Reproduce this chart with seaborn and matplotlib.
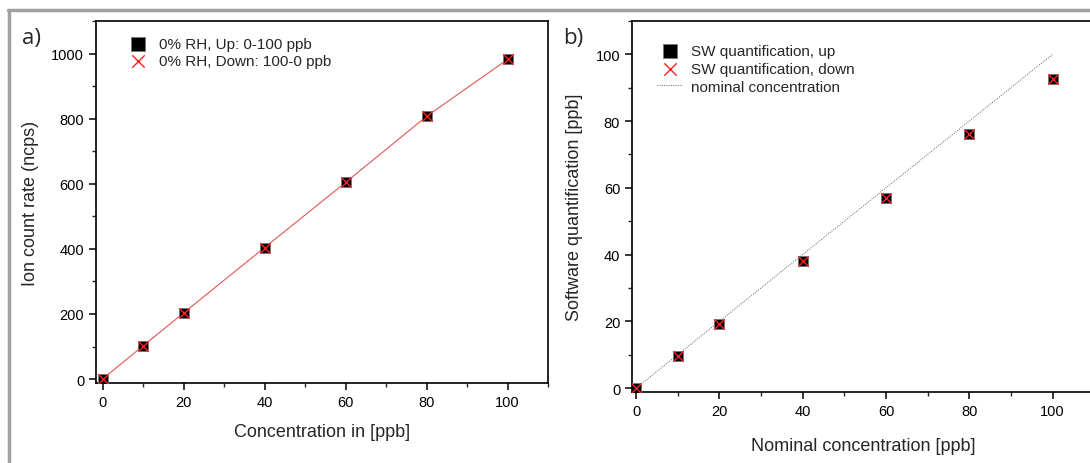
import numpy as np
import pandas as pd
import matplotlib
matplotlib.use("Agg")
import matplotlib.pyplot as plt
from matplotlib.lines import Line2D
from matplotlib.ticker import MultipleLocator
import seaborn as sns

# === data ===
conc = [0, 10, 20, 40, 60, 80, 100]
counts_up = [0, 102, 203, 404, 604, 807, 982]
counts_down = [0, 102, 203, 404, 604, 807, 982]
sw_up = [0, 9.6, 19.2, 38.0, 57.0, 76.2, 92.5]
sw_down = [0, 9.6, 19.2, 38.0, 57.0, 76.2, 92.5]
nominal_x = [0, 100]
nominal_y = [0, 100]

df_a = pd.DataFrame({"conc": conc, "up": counts_up, "down": counts_down})
df_b = pd.DataFrame({"conc": conc, "up": sw_up, "down": sw_down})

sns.set_style("ticks")
plt.rcParams['font.family'] = ['Liberation Sans', 'DejaVu Sans']
plt.rcParams['axes.linewidth'] = 1.2

fig = plt.figure(figsize=(10.9, 4.64), dpi=100)
ax_a = fig.add_axes([0.0881, 0.1724, 0.4147, 0.7802])
ax_b = fig.add_axes([0.5798, 0.1530, 0.4240, 0.7996])

sq = dict(marker='s', s=62, color='black', edgecolor='#777777', linewidth=0.6, zorder=3)
xx = dict(marker='x', s=55, color='#ff2020', linewidth=1.0, zorder=4)

# === panel a ===
sns.lineplot(data=df_a, x="conc", y="down", ax=ax_a, color='#e55555', linewidth=0.8, zorder=2)
sns.scatterplot(data=df_a, x="conc", y="up", ax=ax_a, label="0% RH, Up: 0-100 ppb", **sq)
sns.scatterplot(data=df_a, x="conc", y="down", ax=ax_a, label="0% RH, Down: 100-0 ppb", **xx)
ax_a.set_xlim(-1.6, 110)
ax_a.set_ylim(-12, 1100)
ax_a.xaxis.set_major_locator(MultipleLocator(20))
ax_a.xaxis.set_minor_locator(MultipleLocator(10))
ax_a.yaxis.set_major_locator(MultipleLocator(200))
ax_a.yaxis.set_minor_locator(MultipleLocator(100))
ax_a.set_xlabel("Concentration in [ppb]", fontsize=13, labelpad=10)
ax_a.set_ylabel("Ion count rate (ncps)", fontsize=13, labelpad=9)

# === panel b ===
sns.scatterplot(data=df_b, x="conc", y="up", ax=ax_b, label="SW quantification, up", **sq)
sns.scatterplot(data=df_b, x="conc", y="down", ax=ax_b, label="SW quantification, down", **xx)
ax_b.plot(nominal_x, nominal_y, linestyle=(0, (1, 1.3)), color='#666666', linewidth=0.7,
          label="nominal concentration", zorder=2)
ax_b.set_xlim(-1, 110)
ax_b.set_ylim(-1.2, 110)
ax_b.xaxis.set_major_locator(MultipleLocator(20))
ax_b.xaxis.set_minor_locator(MultipleLocator(10))
ax_b.yaxis.set_major_locator(MultipleLocator(20))
ax_b.yaxis.set_minor_locator(MultipleLocator(10))
ax_b.set_xlabel("Nominal concentration [ppb]", fontsize=13, labelpad=14)
ax_b.set_ylabel("Software quantification [ppb]", fontsize=13, labelpad=9)

for ax, anchor in ((ax_a, (0.035, 0.995)), (ax_b, (0.025, 0.975))):
    for s in ax.spines.values():
        s.set_visible(True)
        s.set_color('black')
    ax.tick_params(which='major', direction='out', length=5, width=1.1, labelsize=10.5, colors='black')
    ax.tick_params(which='minor', direction='out', length=3, width=1.0)
    ax.legend(loc='upper left', bbox_to_anchor=anchor, frameon=False, fontsize=11,
              handlelength=1.6, handletextpad=0.6, labelspacing=0.25, markerscale=1.2)

fig.text(0.020, 0.905, "a)", fontsize=16, family=['Open Sans', 'DejaVu Sans'])
fig.text(0.517, 0.905, "b)", fontsize=16, family=['Open Sans', 'DejaVu Sans'])

# gray frame
fig.add_artist(Line2D([0.0075, 1.0], [0.976, 0.976], color='#a0a0a0', linewidth=2.5, transform=fig.transFigure))
fig.add_artist(Line2D([0.0085, 0.0085], [0.976, 0.0], color='#a0a0a0', linewidth=2.5, transform=fig.transFigure))

fig.savefig("out.png", dpi=100)
